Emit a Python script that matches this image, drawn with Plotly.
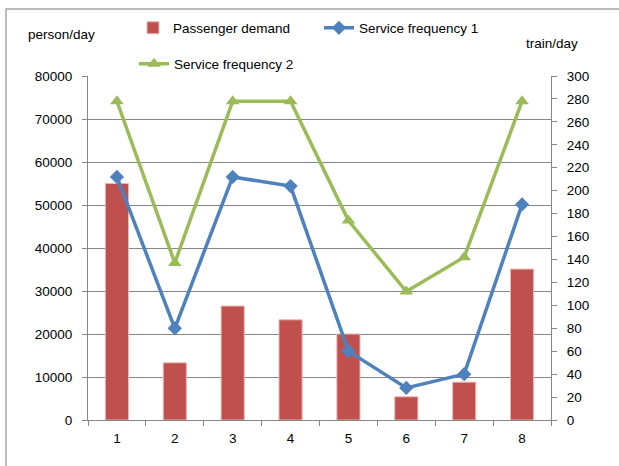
import plotly.graph_objects as go

categories = ["1", "2", "3", "4", "5", "6", "7", "8"]
passenger_demand = [55000, 13300, 26500, 23300, 20000, 5400, 8800, 35100]
service_freq_1 = [212, 80, 212, 204, 60, 28, 40, 188]
service_freq_2 = [278, 137, 278, 278, 174, 112, 142, 278]
left_ticks = [0, 10000, 20000, 30000, 40000, 50000, 60000, 70000, 80000]
right_ticks = list(range(0, 301, 20))

W, H = 619, 466
L, R, T, B = 88, 68, 76, 46
pw, ph = W - L - R, H - T - B

def px_x(p):
    return (p - L) / pw

def px_y(p):
    return (H - B - p) / ph

FONT = "Liberation Sans"
GRID = "#868686"
FS = 13.5

fig = go.Figure()
fig.add_trace(go.Bar(
    x=categories, y=passenger_demand, name="Passenger demand",
    marker=dict(color="#C0504D", line=dict(color="#E6B9B8", width=1)),
    width=0.4, yaxis="y", legend="legend",
))
fig.add_trace(go.Scatter(
    x=categories, y=service_freq_1, name="Service frequency 1",
    mode="lines+markers", line=dict(color="#4F81BD", width=3.5),
    marker=dict(symbol="diamond", size=11, color="#4F81BD"),
    yaxis="y2", legend="legend",
))
fig.add_trace(go.Scatter(
    x=categories, y=service_freq_2, name="Service frequency 2",
    mode="lines+markers", line=dict(color="#9BBB59", width=3.5),
    marker=dict(symbol="triangle-up", size=12, color="#9BBB59"),
    yaxis="y2", legend="legend2",
))

fig.update_layout(
    width=W, height=H,
    margin=dict(l=L, r=R, t=T, b=B, pad=0),
    paper_bgcolor="white", plot_bgcolor="white",
    font=dict(family=FONT, size=FS, color="#000000"),
    xaxis=dict(
        type="category", showgrid=False, showline=True, linecolor=GRID, linewidth=1,
        ticks="outside", ticklen=5, tickcolor=GRID, tickson="boundaries",
        tickfont=dict(size=FS), range=[-0.5, 7.5], ticklabelstandoff=6,
    ),
    yaxis=dict(
        range=[0, 80000], tickvals=left_ticks, tickformat="d",
        showgrid=True, gridcolor=GRID, gridwidth=1,
        showline=True, linecolor=GRID, linewidth=1, ticks="outside", ticklen=5,
        tickcolor=GRID, zeroline=False, tickfont=dict(size=FS), ticklabelstandoff=7,
    ),
    yaxis2=dict(
        range=[0, 300], tickvals=right_ticks, tickformat="d", overlaying="y", side="right",
        showgrid=False, showline=True, linecolor=GRID, linewidth=1, ticks="outside",
        ticklen=5, tickcolor=GRID, zeroline=False, tickfont=dict(size=FS),
        ticklabelstandoff=7,
    ),
    legend=dict(
        orientation="h", x=px_x(133), y=px_y(28), xanchor="left", yanchor="middle",
        entrywidth=141, entrywidthmode="pixels", font=dict(size=FS),
        bgcolor="rgba(0,0,0,0)", itemwidth=30, tracegroupgap=0,
    ),
    legend2=dict(
        orientation="h", x=px_x(134), y=px_y(64), xanchor="left", yanchor="middle",
        font=dict(size=FS), bgcolor="rgba(0,0,0,0)", itemwidth=30,
    ),
    showlegend=True,
    shapes=[dict(
        type="rect", xref="paper", yref="paper",
        x0=px_x(6), x1=px_x(625), y0=px_y(475), y1=px_y(9),
        line=dict(color="#A6A6A6", width=1.5), fillcolor="rgba(0,0,0,0)", layer="below",
    )],
    annotations=[
        dict(text="person/day", xref="paper", yref="paper", x=px_x(61), y=px_y(34),
             xanchor="center", yanchor="middle", showarrow=False, font=dict(size=FS)),
        dict(text="train/day", xref="paper", yref="paper", x=px_x(552), y=px_y(43),
             xanchor="center", yanchor="middle", showarrow=False, font=dict(size=FS)),
    ],
)

fig.write_html(
    "out.html",
    config={"displayModeBar": False},
    post_script="document.body.style.margin='0';document.body.style.overflow='hidden';",
)
